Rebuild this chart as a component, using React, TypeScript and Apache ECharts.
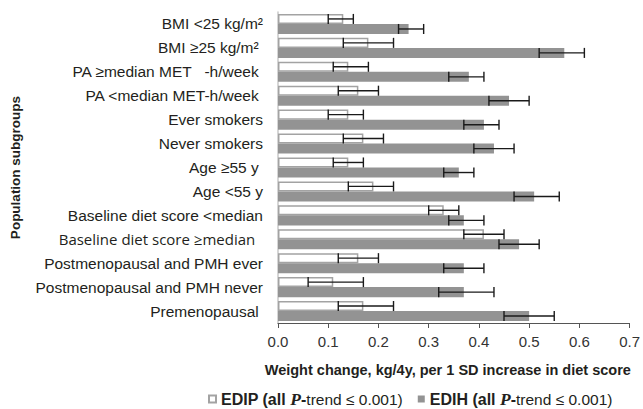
import React, { useEffect, useRef } from "react";
import * as echarts from "echarts";

const categories = [
  "BMI <25 kg/m²",
  "BMI ≥25 kg/m² ",
  "PA ≥median MET   -h/week ",
  "PA <median MET-h/week ",
  "Ever smokers",
  "Never smokers",
  "Age ≥55 y ",
  "Age <55 y",
  "Baseline diet score <median",
  "Baseline diet score ≥median",
  "Postmenopausal and PMH ever",
  "Postmenopausal and PMH never",
  "Premenopausal ",
];

const edip = [0.13, 0.18, 0.14, 0.16, 0.14, 0.17, 0.14, 0.19, 0.33, 0.41, 0.16, 0.11, 0.17];
const edipLow = [0.10, 0.13, 0.11, 0.12, 0.10, 0.13, 0.11, 0.14, 0.30, 0.37, 0.12, 0.06, 0.12];
const edipHigh = [0.15, 0.23, 0.18, 0.20, 0.17, 0.21, 0.17, 0.23, 0.36, 0.45, 0.20, 0.17, 0.23];

const edih = [0.26, 0.57, 0.38, 0.46, 0.41, 0.43, 0.36, 0.51, 0.37, 0.48, 0.37, 0.37, 0.50];
const edihLow = [0.24, 0.52, 0.34, 0.42, 0.37, 0.39, 0.33, 0.47, 0.34, 0.44, 0.33, 0.32, 0.45];
const edihHigh = [0.29, 0.61, 0.41, 0.50, 0.44, 0.47, 0.39, 0.56, 0.41, 0.52, 0.41, 0.43, 0.55];

const xMin = 0;
const xMax = 0.7;
const xInterval = 0.1;

const CAT_GAP = 0.16;
const FONT = "'Liberation Sans', Arial, sans-serif";

function makeErrorSeries(name: string, low: number[], high: number[], side: number) {
  return {
    type: "custom",
    name: name + "-err",
    z: 5,
    silent: true,
    encode: { x: [0, 1], y: 2 },
    data: low.map((l, i) => [l, high[i], i]),
    renderItem: (params: any, api: any) => {
      const idx = api.value(2);
      const p0 = api.coord([api.value(0), idx]);
      const p1 = api.coord([api.value(1), idx]);
      const band = api.size([0, 1])[1];
      const bw = (band * (1 - CAT_GAP)) / 2;
      const y = p0[1] + (side * bw) / 2;
      const h = bw * 0.5;
      const style = { stroke: "#1a1a1a", lineWidth: 1.4 };
      return {
        type: "group",
        children: [
          { type: "line", shape: { x1: p0[0], y1: y, x2: p1[0], y2: y }, style },
          { type: "line", shape: { x1: p0[0], y1: y - h, x2: p0[0], y2: y + h }, style },
          { type: "line", shape: { x1: p1[0], y1: y - h, x2: p1[0], y2: y + h }, style },
        ],
      };
    },
  };
}

export default function App() {
  const ref = useRef<HTMLDivElement>(null);
  useEffect(() => {
    if (!ref.current) return;
    const chart = echarts.init(ref.current, null, { renderer: "svg" });
    chart.setOption({
      animation: false,
      backgroundColor: "#ffffff",
      textStyle: { fontFamily: FONT },
      grid: { left: 275, right: 12, top: 12, bottom: 86 },
      legend: {
        data: ["EDIP", "EDIH"],
        left: 203,
        top: 385,
        icon: "rect",
        itemWidth: 7,
        itemHeight: 7,
        itemGap: 15,
        formatter: (name: string) =>
          `{b|${name} (all }{p|P}{b|-}{r|trend ≤ 0.001)}`,
        textStyle: {
          color: "#231f20",
          rich: {
            b: { fontWeight: "bold", fontSize: 16, fontFamily: FONT, color: "#231f20" },
            p: {
              fontWeight: "bold",
              fontStyle: "italic",
              fontSize: 17.5,
              fontFamily: "'Liberation Serif', serif",
              color: "#231f20",
            },
            r: { fontSize: 15.5, fontFamily: FONT, color: "#231f20" },
          },
        },
      },
      xAxis: {
        type: "value",
        min: xMin,
        max: xMax,
        interval: xInterval,
        name: "Weight change, kg/4y, per 1 SD increase in diet score",
        nameLocation: "middle",
        nameGap: 39,
        nameTextStyle: {
          fontWeight: "bold",
          fontSize: 14.5,
          color: "#231f20",
          fontFamily: FONT,
          padding: [0, 12, 0, 0],
        },
        axisLine: { show: true, lineStyle: { color: "#555", width: 1 } },
        axisTick: { show: true, length: 5, lineStyle: { color: "#555" } },
        axisLabel: {
          fontSize: 15,
          color: "#333",
          margin: 11,
          formatter: (v: number) => v.toFixed(1),
        },
        splitLine: { show: false },
      },
      yAxis: {
        type: "category",
        data: categories,
        inverse: true,
        name: "Population subgroups",
        nameLocation: "middle",
        nameRotate: 90,
        nameGap: 256,
        nameTextStyle: { fontWeight: "bold", fontSize: 13.5, color: "#231f20", fontFamily: FONT },
        axisLine: { show: true, lineStyle: { color: "#c8c8c8", width: 1.5 } },
        axisTick: { show: false },
        axisLabel: {
          fontSize: 15.5,
          color: "#231f20",
          margin: 15,
          formatter: (v: string) =>
            v === "Baseline diet score ≥median" ? `{alt|${v}  }` : v,
          rich: {
            alt: { fontSize: 15, fontFamily: "'Open Sans', sans-serif", color: "#231f20" },
          },
        },
      },
      series: [
        {
          name: "EDIP",
          type: "bar",
          data: edip,
          barGap: "0%",
          barCategoryGap: CAT_GAP * 100 + "%",
          itemStyle: { color: "#ffffff", borderColor: "#a3a3a3", borderWidth: 1.5 },
        },
        {
          name: "EDIH",
          type: "bar",
          data: edih,
          barGap: "0%",
          barCategoryGap: CAT_GAP * 100 + "%",
          itemStyle: { color: "#939393" },
        },
        makeErrorSeries("EDIP", edipLow, edipHigh, -1),
        makeErrorSeries("EDIH", edihLow, edihHigh, 1),
      ],
    });
    return () => chart.dispose();
  }, []);
  return (
    <div
      ref={ref}
      style={{ position: "absolute", left: 0, top: 0, width: 643, height: 409 }}
    />
  );
}
